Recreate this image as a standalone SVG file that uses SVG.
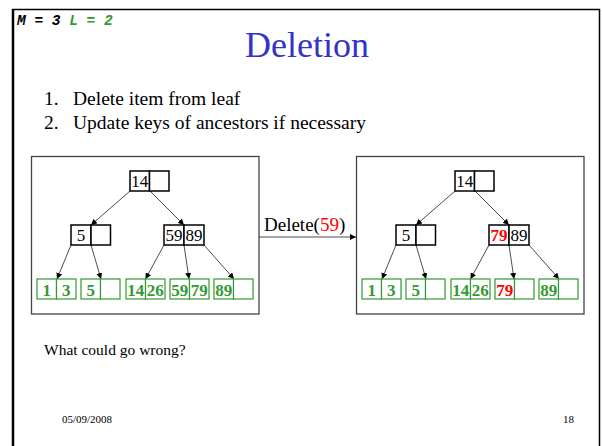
<svg xmlns="http://www.w3.org/2000/svg" width="602" height="446" viewBox="0 0 602 446">
<style>
.t{font-family:"Liberation Serif","Times New Roman",serif;fill:#000}
.k{font-family:"Liberation Serif","Times New Roman",serif;font-size:17px;text-anchor:middle;fill:#000}
.g{font-family:"Liberation Serif","Times New Roman",serif;font-size:17px;font-weight:bold;text-anchor:middle;fill:#339933}
.r{fill:#ff0000}
.nb{fill:#fff;stroke:#000;stroke-width:1.5}
.lb{fill:#fff;stroke:#339933;stroke-width:1.2}
.panel{fill:#fff;stroke:#444;stroke-width:1.3}
.c{stroke:#000;stroke-width:0.7;fill:none;marker-end:url(#ah)}
</style>
<defs>
<marker id="ah" markerUnits="userSpaceOnUse" markerWidth="7" markerHeight="6" refX="6" refY="3" orient="auto">
<path d="M0,0 L6,3 L0,6 z" fill="#000"/>
</marker>
</defs>
<rect width="602" height="446" fill="#fff"/>
<g id="frame">
<line x1="12" y1="9.5" x2="600" y2="9.5" stroke="#000" stroke-width="1.5"/>
<line x1="13" y1="9" x2="13" y2="446" stroke="#000" stroke-width="2.5"/>
<line x1="599.5" y1="9" x2="599.5" y2="446" stroke="#000" stroke-width="1.5"/>
</g>
<text x="17" y="25" font-family="'Liberation Mono','Courier New',monospace" font-size="14.5" font-weight="bold" font-style="italic" xml:space="preserve"><tspan fill="#000">M = 3 </tspan><tspan fill="#339933">L = 2</tspan></text>
<text x="245" y="57" font-family="'Liberation Serif','Times New Roman',serif" font-size="36" fill="#3333cc">Deletion</text>
<g class="t" font-size="19.5">
<text x="44" y="105" class="t">1.</text>
<text x="73" y="105" class="t">Delete item from leaf</text>
<text x="44" y="129" class="t">2.</text>
<text x="73" y="129" class="t">Update keys of ancestors if necessary</text>
</g>
<text x="44" y="355" class="t" font-size="15.5">What could go wrong?</text>
<text x="62" y="423" class="t" font-size="11">05/09/2008</text>
<text x="563" y="423" class="t" font-size="11">18</text>

<g id="panel-left"><rect class="panel" x="31.5" y="156.5" width="227.5" height="157.5"/></g>
<g id="panel-right"><rect class="panel" x="356.5" y="156.5" width="227.5" height="157.5"/></g>

<g id="connectors">
<line class="c" x1="130" y1="191" x2="91" y2="225"/>
<line class="c" x1="150" y1="191" x2="184" y2="225"/>
<line class="c" x1="71" y1="245" x2="57" y2="279"/>
<line class="c" x1="91" y1="245" x2="101" y2="279"/>
<line class="c" x1="164" y1="245" x2="145.5" y2="279"/>
<line class="c" x1="184" y1="245" x2="189" y2="279"/>
<line class="c" x1="204" y1="245" x2="234" y2="279"/>
<line class="c" x1="455" y1="191" x2="416" y2="225"/>
<line class="c" x1="475" y1="191" x2="509" y2="225"/>
<line class="c" x1="396" y1="245" x2="382" y2="279"/>
<line class="c" x1="416" y1="245" x2="426" y2="279"/>
<line class="c" x1="489" y1="245" x2="470.5" y2="279"/>
<line class="c" x1="509" y1="245" x2="514" y2="279"/>
<line class="c" x1="529" y1="245" x2="559" y2="279"/>
<line class="c" x1="259" y1="237" x2="356" y2="237"/>
</g>
<text x="264" y="231" class="t" font-size="19">Delete(<tspan class="r">59</tspan>)</text>

<!-- left tree -->
<g id="L-root"><rect class="nb" x="130" y="171" width="19.5" height="20"/><rect class="nb" x="149.5" y="171" width="19.5" height="20"/><text class="k" x="139.75" y="187">14</text></g>
<g id="L-int1"><rect class="nb" x="71" y="225" width="20" height="20"/><rect class="nb" x="91" y="225" width="19.5" height="20"/><text class="k" x="81" y="241">5</text></g>
<g id="L-int2"><rect class="nb" x="164" y="225" width="20" height="20"/><rect class="nb" x="184" y="225" width="20" height="20"/><text class="k" x="174" y="241">59</text><text class="k" x="194" y="241">89</text></g>
<g id="L-leaf1"><rect class="lb" x="37" y="279" width="19.5" height="20"/><rect class="lb" x="56.5" y="279" width="19.5" height="20"/><text class="g" x="46.75" y="296">1</text><text class="g" x="66.25" y="296">3</text></g>
<g id="L-leaf2"><rect class="lb" x="81" y="279" width="19.5" height="20"/><rect class="lb" x="100.5" y="279" width="19.5" height="20"/><text class="g" x="90.75" y="296">5</text></g>
<g id="L-leaf3"><rect class="lb" x="126" y="279" width="19.5" height="20"/><rect class="lb" x="145.5" y="279" width="19.5" height="20"/><text class="g" x="135.75" y="296">14</text><text class="g" x="155.25" y="296">26</text></g>
<g id="L-leaf4"><rect class="lb" x="170" y="279" width="19.5" height="20"/><rect class="lb" x="189.5" y="279" width="19.5" height="20"/><text class="g" x="179.75" y="296">59</text><text class="g" x="199.25" y="296">79</text></g>
<g id="L-leaf5"><rect class="lb" x="214" y="279" width="19.5" height="20"/><rect class="lb" x="233.5" y="279" width="19.5" height="20"/><text class="g" x="223.75" y="296">89</text></g>

<!-- right tree -->
<g id="R-root"><rect class="nb" x="455" y="171" width="19.5" height="20"/><rect class="nb" x="474.5" y="171" width="19.5" height="20"/><text class="k" x="464.75" y="187">14</text></g>
<g id="R-int1"><rect class="nb" x="396" y="225" width="20" height="20"/><rect class="nb" x="416" y="225" width="19.5" height="20"/><text class="k" x="406" y="241">5</text></g>
<g id="R-int2"><rect class="nb" x="489" y="225" width="20" height="20"/><rect class="nb" x="509" y="225" width="20" height="20"/><text class="k r" x="499" y="241" font-weight="bold">79</text><text class="k" x="519" y="241">89</text></g>
<g id="R-leaf1"><rect class="lb" x="362" y="279" width="19.5" height="20"/><rect class="lb" x="381.5" y="279" width="19.5" height="20"/><text class="g" x="371.75" y="296">1</text><text class="g" x="391.25" y="296">3</text></g>
<g id="R-leaf2"><rect class="lb" x="406" y="279" width="19.5" height="20"/><rect class="lb" x="425.5" y="279" width="19.5" height="20"/><text class="g" x="415.75" y="296">5</text></g>
<g id="R-leaf3"><rect class="lb" x="451" y="279" width="19.5" height="20"/><rect class="lb" x="470.5" y="279" width="19.5" height="20"/><text class="g" x="460.75" y="296">14</text><text class="g" x="480.25" y="296">26</text></g>
<g id="R-leaf4"><rect class="lb" x="495" y="279" width="19.5" height="20"/><rect class="lb" x="514.5" y="279" width="19.5" height="20"/><text class="g r" x="504.75" y="296">79</text></g>
<g id="R-leaf5"><rect class="lb" x="539" y="279" width="19.5" height="20"/><rect class="lb" x="558.5" y="279" width="19.5" height="20"/><text class="g" x="548.75" y="296">89</text></g>
</svg>
